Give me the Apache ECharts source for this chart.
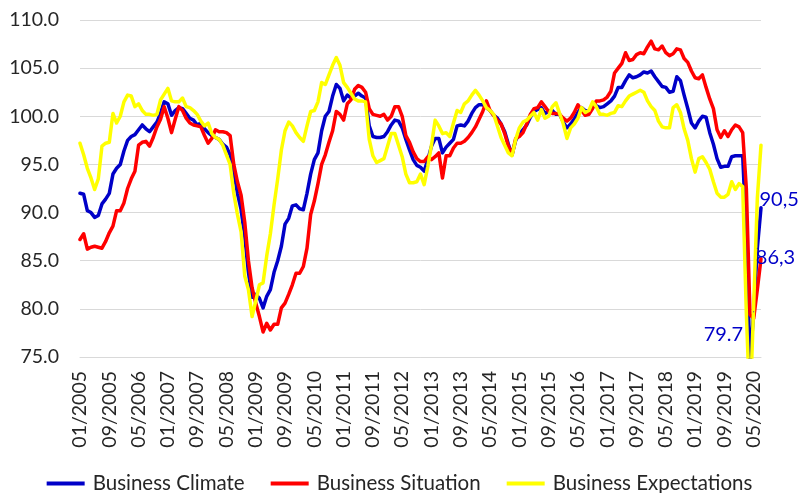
<!DOCTYPE html>
<html>
<head>
<meta charset="utf-8">
<script src="https://cdn.jsdelivr.net/npm/echarts@6/dist/echarts.min.js"></script>
<style>
  html, body { margin: 0; padding: 0; background: #fff; }
  #chart { width: 799px; height: 493px; }
</style>
</head>
<body>
<div id="chart"></div>
<script>
// ifo index, monthly 01/2005 - 07/2020
var seriesNames = ["Business Climate", "Business Situation", "Business Expectations"];

var climate = [
  92.0, 91.9, 90.2, 90.0, 89.5, 89.7, 90.9, 91.4, 92.0, 94.0, 94.6, 95.0,
  96.4, 97.5, 97.9, 98.1, 98.6, 99.1, 98.7, 98.4, 98.9, 99.4, 100.3, 101.5,
  101.3, 100.1, 100.6, 100.9, 100.8, 100.3, 99.8, 99.6, 99.1, 99.3, 98.7, 98.3,
  98.0, 97.8, 97.6, 97.1, 96.8, 96.0, 94.3, 92.0, 90.3, 87.5, 83.8, 81.2,
  81.5, 81.1, 80.1, 81.3, 82.0, 83.8, 85.0, 86.5, 88.8, 89.4, 90.7, 90.8,
  90.4, 90.3, 92.0, 94.0, 95.5, 96.2, 98.5, 100.0, 100.5, 102.1, 103.3, 102.9,
  101.6, 102.2, 101.9, 102.1, 102.4, 102.1, 101.9, 99.0, 97.9, 97.8, 97.8, 97.9,
  98.4, 99.1, 99.6, 99.5, 98.8, 97.6, 96.5, 95.5, 94.9, 94.7, 94.3, 95.5,
  96.9, 97.7, 97.7, 96.2, 96.8, 97.2, 97.6, 99.0, 99.1, 99.0, 99.5, 100.3,
  100.9, 101.2, 101.2, 100.9, 100.6, 100.1, 99.8, 99.2, 98.4, 97.1, 96.0, 97.5,
  98.2, 98.6, 99.1, 99.9, 100.5, 100.7, 100.9, 100.3, 100.5, 100.6, 100.2, 100.2,
  99.4, 98.8, 99.2, 99.7, 100.4, 100.9, 100.6, 100.5, 101.0, 101.1, 100.9, 101.0,
  101.3, 101.6, 102.1, 103.0, 103.0, 103.7, 104.3, 104.0, 104.1, 104.3, 104.6, 104.5,
  104.7, 104.1, 103.6, 103.1, 103.0, 102.5, 102.6, 104.1, 103.7, 102.2, 100.8, 99.3,
  98.8, 99.5, 100.0, 99.9, 98.3, 97.1, 95.6, 94.7, 94.8, 94.8, 95.8, 95.9,
  95.9, 95.9, 87.5, 74.3, 79.7, 86.3, 90.5
];

var situation = [
  87.2, 87.8, 86.2, 86.4, 86.5, 86.4, 86.3, 87.0, 87.9, 88.6, 90.2, 90.2,
  91.0, 92.5, 93.5, 94.3, 97.0, 97.3, 97.4, 96.9, 97.8, 98.9, 99.7, 101.0,
  99.8, 98.3, 99.7, 101.0, 100.6, 99.8, 99.3, 99.1, 99.0, 98.9, 98.0, 97.2,
  97.7, 98.6, 98.4, 98.4, 98.3, 98.0, 95.0, 93.2, 91.8, 89.0, 85.0, 82.2,
  80.6, 79.2, 77.6, 78.5, 77.8, 78.4, 78.4, 80.1, 80.6, 81.5, 82.5, 83.7,
  83.7, 84.4, 86.3, 89.8, 91.2, 93.0, 95.0, 96.0, 97.3, 98.5, 100.5, 100.2,
  99.6, 101.3, 101.7, 102.8, 103.2, 103.0, 102.5, 100.8, 100.2, 100.1, 100.0, 100.2,
  99.6, 100.0, 101.0, 101.0, 100.0, 98.0, 97.3, 96.3, 95.6, 95.3, 95.3, 95.8,
  95.5, 95.8, 96.2, 93.6, 95.9, 95.9, 96.7, 97.2, 97.2, 97.4, 97.8, 98.3,
  98.9, 99.7, 100.5, 101.6, 100.6, 100.1, 99.6, 99.2, 98.2, 96.9, 96.0, 97.7,
  97.9, 98.3, 99.2, 100.2, 100.8, 100.9, 101.5, 101.0, 100.5, 100.3, 100.3, 100.2,
  99.8, 99.5, 99.8, 100.4, 101.2, 100.6, 100.1, 100.2, 100.8, 101.6, 101.6, 101.7,
  102.0, 102.6, 104.5, 105.0, 105.5, 106.6, 105.8, 105.9, 106.4, 106.6, 106.5, 107.2,
  107.8, 107.0, 106.9, 107.3, 106.6, 106.3, 106.5, 107.0, 106.9, 106.0, 105.6, 104.7,
  104.0, 103.9, 104.3, 103.0, 101.8, 100.8, 98.6, 97.8, 98.5, 97.9, 98.6, 99.1,
  98.9, 98.3, 92.5, 79.4, 79.0, 82.0, 85.2
];

var expectations = [
  97.2, 96.0, 94.6, 93.6, 92.4, 93.5, 96.9, 97.2, 97.3, 100.3, 99.3, 100.0,
  101.5, 102.2, 102.1, 101.0, 101.3, 100.6, 100.2, 100.2, 100.1, 100.2, 101.7, 102.3,
  102.9, 101.6, 101.5, 101.5, 101.9, 101.0, 100.9, 100.6, 100.2, 99.5, 99.0, 99.3,
  98.2, 97.8, 97.6, 97.0, 96.0, 95.0, 92.0, 89.8, 88.0, 83.4, 82.0, 79.2,
  80.8, 82.5, 82.7, 85.5, 87.8, 90.8, 93.5, 96.5, 98.5, 99.4, 99.0, 98.3,
  97.8, 97.4, 99.0, 100.5, 100.6, 101.5, 103.5, 103.3, 104.3, 105.3, 106.1, 105.3,
  103.5, 103.0, 102.4, 101.8, 101.6, 101.6, 101.5, 97.6, 95.9, 95.2, 95.4, 95.6,
  96.9, 98.2, 98.2, 97.0, 95.8, 94.0, 93.1, 93.1, 93.2, 94.0, 92.9, 94.8,
  97.0, 99.6, 99.0, 98.2, 98.3, 97.9, 99.3, 100.6, 100.4, 101.3, 101.6, 102.2,
  102.7, 102.2, 101.6, 100.9, 100.6, 100.2, 99.0, 97.8, 97.0, 96.2, 95.9, 97.6,
  98.8, 99.4, 99.6, 100.0, 100.4, 99.6, 100.7, 99.8, 100.0, 101.0, 101.4, 100.3,
  99.2, 97.7, 98.8, 99.2, 99.8, 100.9, 100.4, 100.6, 101.5, 101.0, 100.2, 100.2,
  100.1, 100.3, 100.4, 101.1, 101.0, 101.6, 102.1, 102.3, 102.5, 102.7, 102.5, 101.6,
  101.0, 100.6, 99.5, 98.9, 98.8, 98.8, 100.9, 101.2, 100.4, 98.7, 97.5, 95.6,
  94.2, 95.6, 95.8, 95.2, 94.5, 93.2, 92.0, 91.6, 91.6, 91.9, 93.2, 92.4,
  93.0, 92.7, 79.5, 69.4, 80.4, 91.5, 97.0
];

// value labels on the climate line (05/2020, 06/2020, 07/2020)
var climateLabelIdx = [184, 185, 186];
var climateLabelText = ["79.7", "86,3", "90,5"];

// month categories 01/2005 .. 07/2020
var months = [];
for (var y = 2005; y <= 2020; y++) {
  for (var m = 1; m <= 12; m++) {
    if (y == 2020 && m > 7) break;
    months.push((m < 10 ? "0" + m : "" + m) + "/" + y);
  }
}

var FONT = "Lato";
var TXT = "#262626";
var BLUE = "#0000C8";

var labelPlace = [
  { position: "left", distance: 10, offset: [0, 23] },
  { position: "right", distance: 5, offset: [-7, 9] },
  { position: "right", distance: 5, offset: [-7, -8] },
];

// the climate labels go on as mark points, placed through the axes
var climateMarks = climateLabelIdx.map(function (idx, k) {
  return {
    coord: [idx, climate[idx]],
    value: climateLabelText[k],
    label: Object.assign({
      show: true,
      formatter: climateLabelText[k],
      color: BLUE,
      fontFamily: FONT,
      fontSize: 20,
    }, labelPlace[k]),
  };
});

var myChart = echarts.init(document.getElementById("chart"));

function lineSeries(name, data, color) {
  return {
    name: name,
    type: "line",
    data: data,
    symbol: "none",
    smooth: false,
    clip: true,
    lineStyle: { color: color, width: 3.5, join: "round", cap: "round" },
    itemStyle: { color: color },
    emphasis: { disabled: true },
  };
}

var climateSeries = lineSeries(seriesNames[0], climate, BLUE);
climateSeries.markPoint = {
  symbol: "circle",
  symbolSize: 1,
  itemStyle: { color: BLUE },
  silent: true,
  animation: false,
  data: climateMarks,
};

var option = {
  animation: false,
  backgroundColor: "#ffffff",
  grid: {
    left: 80,
    right: 38,
    top: 20,
    bottom: 136,
    containLabel: false,
  },
  legend: {
    data: seriesNames,
    bottom: -6,
    left: "center",
    icon: "rect",
    itemWidth: 38,
    itemHeight: 4,
    itemGap: 26,
    textStyle: { fontFamily: FONT, fontSize: 20.5, color: TXT, padding: [0, 0, 0, 3] },
  },
  xAxis: {
    type: "category",
    data: months,
    boundaryGap: false,
    axisLine: { show: true, lineStyle: { color: "#d9d9d9", width: 1 } },
    axisTick: { show: false },
    axisLabel: {
      interval: 7,
      rotate: 90,
      margin: 14,
      fontFamily: FONT,
      fontSize: 19.5,
      color: TXT,
    },
    splitLine: { show: false },
  },
  yAxis: {
    type: "value",
    min: 75,
    max: 110,
    interval: 5,
    axisLine: { show: false },
    axisTick: { show: false },
    axisLabel: {
      margin: 21,
      fontFamily: FONT,
      fontSize: 19.5,
      color: TXT,
      formatter: function (v) {
        return v.toFixed(1);
      },
    },
    splitLine: { lineStyle: { color: "#d9d9d9", width: 1 } },
  },
  series: [
    climateSeries,
    lineSeries(seriesNames[1], situation, "#FF0000"),
    lineSeries(seriesNames[2], expectations, "#FFFF00"),
  ],
};

myChart.setOption(option);
window.addEventListener("resize", function () {
  myChart.resize();
});
</script>
</body>
</html>
